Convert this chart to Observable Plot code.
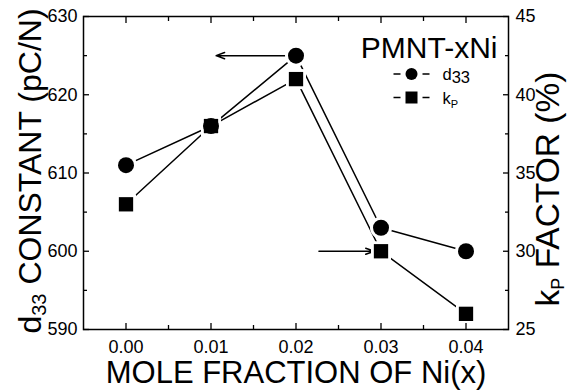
<!DOCTYPE html>
<html><head><meta charset="utf-8">
<script src="https://cdn.jsdelivr.net/npm/d3@7"></script>
<script src="https://cdn.jsdelivr.net/npm/@observablehq/plot@0.6"></script>
<style>
body{margin:0;background:#fff;}
svg{font-family:"Liberation Sans",Arial,sans-serif;}
</style>
</head><body><div id="chart"></div>
<script>
// ---- data ----
const nickel = [0.00, 0.01, 0.02, 0.03, 0.04];
const d33 = [611, 616, 625, 603, 600];
const kp = [33, 38, 41, 30, 26];
const xTicks = [0.00, 0.01, 0.02, 0.03, 0.04];
const xMinorTicks = [0.005, 0.015, 0.025, 0.035];
const d33Ticks = [590, 600, 610, 620, 630];
const d33MinorTicks = [595, 605, 615, 625];
const kpTicks = [25, 30, 35, 40, 45];
const kpMinorTicks = [27.5, 32.5, 37.5, 42.5];
const d33Domain = [590, 630];
const kpDomain = [25, 45];
const xDomain = [-0.005, 0.045];
// arrows: left one points to d33 axis, right one points to kP axis
const arrowLeft = {x1: 0.0192, x2: 0.0106, d33: 625};
const arrowRight = {x1: 0.0227, x2: 0.0292, kp: 30};
const legendItems = [
  {label: "d33", symbol: "circle"},
  {label: "kP", symbol: "square"}
];

// kP values are drawn on the d33 scale (twin axis)
const kpToLeft = k => d33Domain[0] + (k - kpDomain[0]) * (d33Domain[1] - d33Domain[0]) / (kpDomain[1] - kpDomain[0]);
const leftToKp = v => kpDomain[0] + (v - d33Domain[0]) * (kpDomain[1] - kpDomain[0]) / (d33Domain[1] - d33Domain[0]);

const rowsD33 = nickel.map((x, i) => ({x, v: d33[i]}));
const rowsKp = nickel.map((x, i) => ({x, v: kpToLeft(kp[i])}));
const arrowRows = [
  {x1: arrowLeft.x1, x2: arrowLeft.x2, y: arrowLeft.d33},
  {x1: arrowRight.x1, x2: arrowRight.x2, y: kpToLeft(arrowRight.kp)}
];

const legendDash = {draw(ctx) { ctx.moveTo(-18, 0); ctx.lineTo(-11, 0); ctx.moveTo(11, 0); ctx.lineTo(18, 0); }};

const tickStyle = {stroke: "black", strokeWidth: 1.3, fontSize: 18, label: null};

const chart = Plot.plot({
  width: 573, height: 390,
  marginLeft: 83, marginRight: 65, marginTop: 16, marginBottom: 61,
  x: {domain: xDomain},
  y: {domain: d33Domain},
  style: {background: "white", color: "black", fontFamily: '"Liberation Sans", Arial, sans-serif'},
  marks: [
    Plot.line(rowsD33, {x: "x", y: "v", stroke: "black", strokeWidth: 1.5}),
    Plot.line(rowsKp, {x: "x", y: "v", stroke: "black", strokeWidth: 1.5}),
    Plot.arrow(arrowRows, {x1: "x1", x2: "x2", y1: "y", y2: "y", stroke: "black", strokeWidth: 1.5, headLength: 9, headAngle: 40}),
    // white halos make the gap between the line and the markers
    Plot.dot(rowsD33, {x: "x", y: "v", symbol: "circle", r: 11, fill: "white"}),
    Plot.dot(rowsKp, {x: "x", y: "v", symbol: "square", r: 11.3, fill: "white"}),
    Plot.dot(rowsD33, {x: "x", y: "v", symbol: "circle", r: 8, fill: "black"}),
    Plot.dot(rowsKp, {x: "x", y: "v", symbol: "square", r: 8.07, fill: "black"}),
    Plot.frame({stroke: "black", strokeWidth: 1.5}),
    // bottom axis
    Plot.axisX(xTicks, {...tickStyle, anchor: "bottom", tickSize: -6, tickPadding: 17, tickFormat: d3.format(".2f")}),
    Plot.axisX(xMinorTicks, {...tickStyle, anchor: "bottom", tickSize: -4, tickFormat: () => ""}),
    // top axis (ticks only)
    Plot.axisX(xTicks, {...tickStyle, anchor: "top", tickSize: -6, tickFormat: () => ""}),
    Plot.axisX(xMinorTicks, {...tickStyle, anchor: "top", tickSize: -4, tickFormat: () => ""}),
    // left axis
    Plot.axisY(d33Ticks, {...tickStyle, anchor: "left", tickSize: -6, tickPadding: 12, tickFormat: d => String(d)}),
    Plot.axisY(d33MinorTicks, {...tickStyle, anchor: "left", tickSize: -4, tickFormat: () => ""}),
    // right axis (kP)
    Plot.axisY(kpTicks.map(kpToLeft), {...tickStyle, anchor: "right", tickSize: -6, tickPadding: 13, tickFormat: d => String(leftToKp(d))}),
    Plot.axisY(kpMinorTicks.map(kpToLeft), {...tickStyle, anchor: "right", tickSize: -4, tickFormat: () => ""}),
    // axis titles
    Plot.text(["MOLE FRACTION OF Ni(x)"], {frameAnchor: "bottom", dy: 44, fontSize: 31, textAnchor: "middle", lineAnchor: "middle", fill: "black"}),
    Plot.text(["d33 CONSTANT (pC/N)"], {frameAnchor: "left", dx: -53, dy: -2, rotate: -90, fontSize: 32, textAnchor: "middle", lineAnchor: "middle", fill: "black"}),
    Plot.text(["kP FACTOR (%)"], {frameAnchor: "right", dx: 40, dy: 16, rotate: -90, fontSize: 33.5, textAnchor: "middle", lineAnchor: "middle", fill: "black"}),
    // in-plot title and legend
    Plot.text(["PMNT-xNi"], {frameAnchor: "top-right", dx: -11, dy: 31.5, fontSize: 30, textAnchor: "end", lineAnchor: "middle", fill: "black"}),
    ...legendItems.map((item, i) => Plot.dot([item], {frameAnchor: "top-right", dx: -97, dy: 57.5 + i * 23.5, symbol: legendDash, r: 6, stroke: "black", strokeWidth: 1.5, fill: "none"})),
    ...legendItems.map((item, i) => Plot.dot([item], {frameAnchor: "top-right", dx: -97, dy: 57.5 + i * 23.5, symbol: item.symbol, r: item.symbol === "square" ? 6.77 : 6, fill: "black"})),
    ...legendItems.map((item, i) => Plot.text([item.label], {frameAnchor: "top-right", dx: -66, dy: 58.5 + i * 23.5, fontSize: 16.5, textAnchor: "start", lineAnchor: "middle", fill: "black"}))
  ]
});
document.getElementById("chart").appendChild(chart);

// rich text (subscripts)
function rich(plain, parts) {
  d3.select(chart).selectAll("text").filter(function() { return this.textContent === plain; }).each(function() {
    const t = d3.select(this);
    t.text(null);
    parts.forEach(p => {
      const s = t.append("tspan").text(p.t);
      if (p.size) s.attr("font-size", p.size);
      if (p.dy) s.attr("dy", p.dy);
    });
  });
}
rich("d33 CONSTANT (pC/N)", [{t: "d"}, {t: "33", size: 20, dy: 5}, {t: " CONSTANT (pC/N)", dy: -5}]);
rich("kP FACTOR (%)", [{t: "k"}, {t: "P", size: 18, dy: 5}, {t: " FACTOR (%)", dy: -5}]);
rich("d33", [{t: "d"}, {t: "33", dy: 2.5}]);
rich("kP", [{t: "k"}, {t: "P", size: 11, dy: 4}]);
</script>
</body></html>
